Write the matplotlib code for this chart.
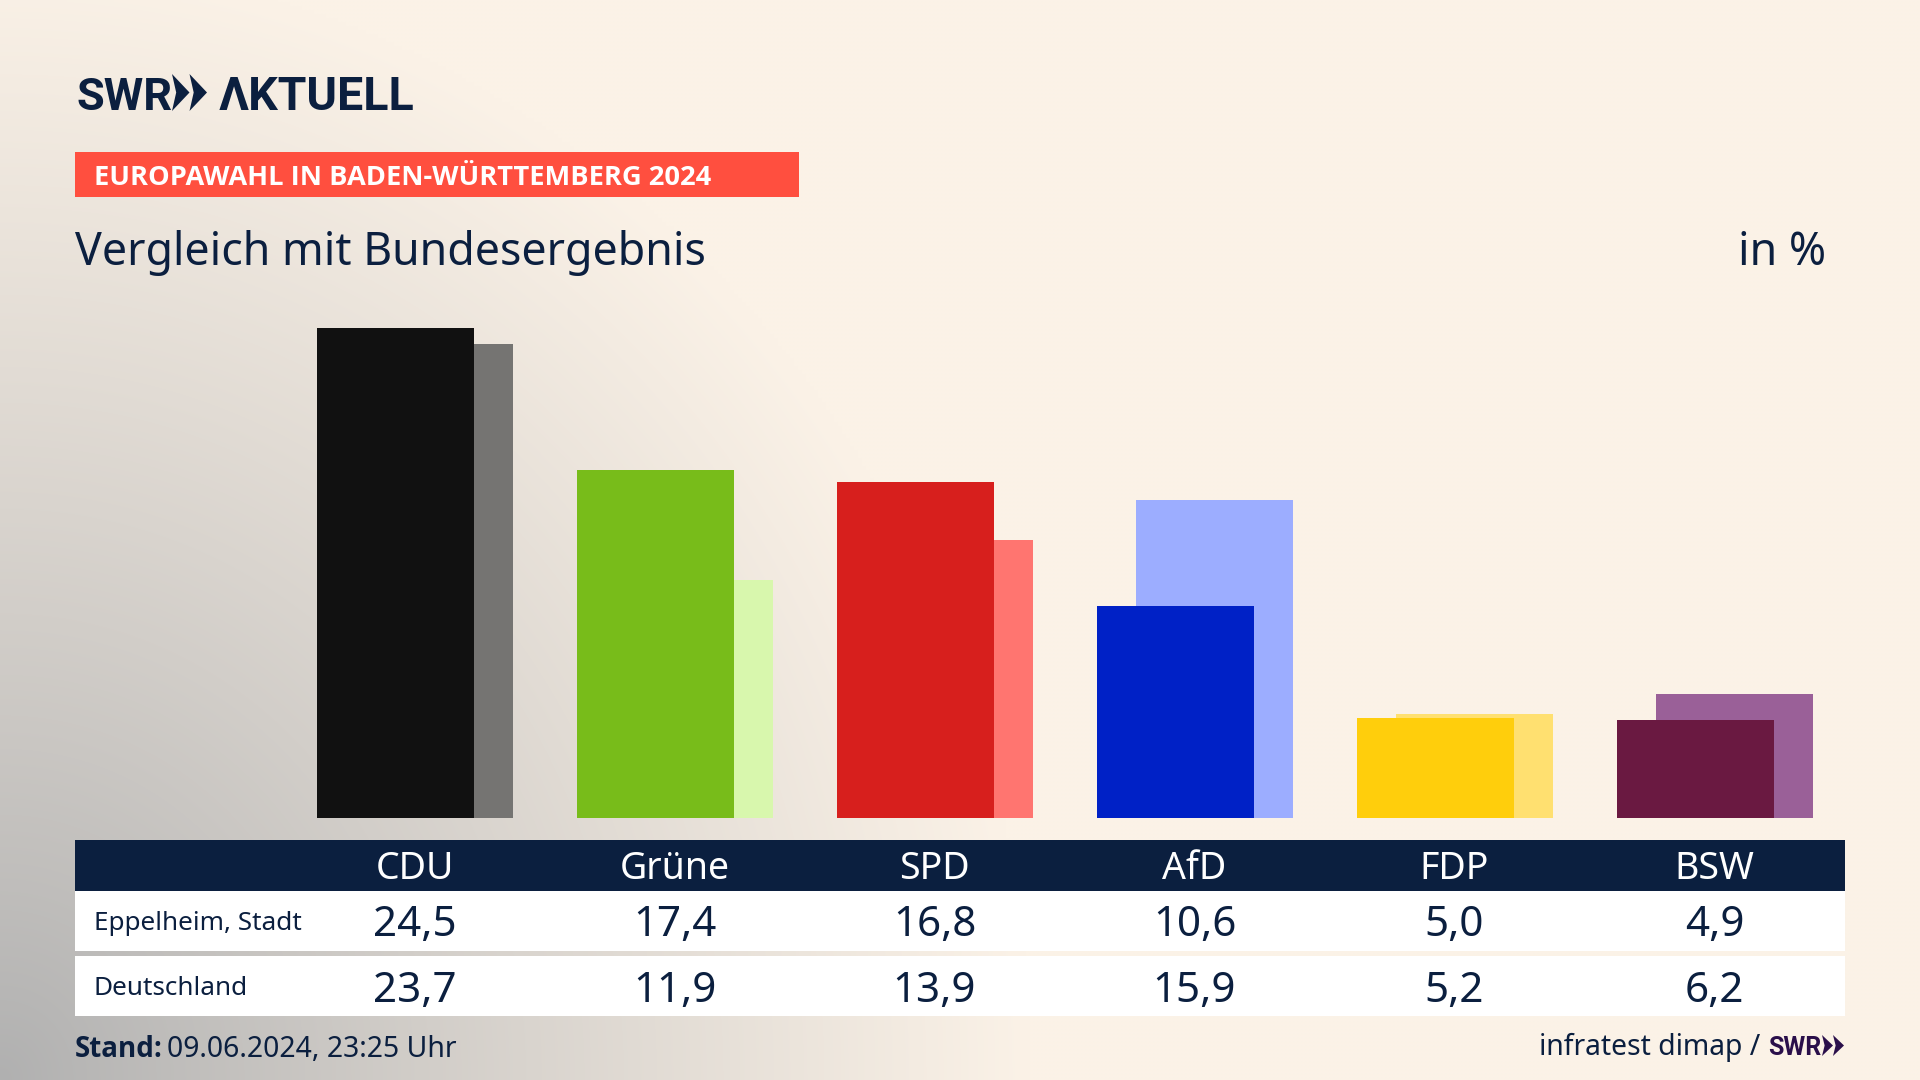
import matplotlib.pyplot as plt
from matplotlib.patches import Rectangle, Polygon
import numpy as np

# Daten
parties = ['CDU', 'Grüne', 'SPD', 'AfD', 'FDP', 'BSW']
eppelheim = [24.5, 17.4, 16.8, 10.6, 5.0, 4.9]
deutschland = [23.7, 11.9, 13.9, 15.9, 5.2, 6.2]
colors_front = ['#111111', '#78bc1a', '#d71f1d', '#0021c6', '#ffce0c', '#6a1941']
colors_back = ['#757472', '#d8f7ad', '#ff7570', '#9cadff', '#ffe070', '#9a6098']

NAVY = '#0b1f3f'
PURPLE = '#2a0f4a'
FONT = 'Noto Sans'
BOLD = 'Open Sans'
LOGO = 'Roboto'
W, H = 1920, 1080

plt.rcParams['font.family'] = [FONT, 'DejaVu Sans']

fig = plt.figure(figsize=(19.2, 10.8), dpi=100)

# Hintergrund und Texte in Pixelkoordinaten
bg = fig.add_axes([0, 0, 1, 1], zorder=0)
bg.set_xlim(0, W)
bg.set_ylim(H, 0)
bg.axis('off')

xx, yy = np.meshgrid(np.linspace(0, W, 480), np.linspace(0, H, 270))
t = np.clip(np.sqrt((xx / 1030) ** 2 + ((H - yy) / 1120) ** 2), 0, 1) ** 0.9
base = np.array([251, 242, 231]) / 255
dark = np.array([176, 176, 176]) / 255
grad = dark + (base - dark) * t[..., None]
bg.imshow(grad, extent=[0, W, H, 0], aspect='auto', interpolation='bilinear')


def chevrons(x, y, w, h, color):
    # die zwei Pfeile aus dem SWR-Logo
    for dx in (0, w * 0.5):
        pts = [(x + dx, y), (x + dx + w * 0.5, y + h / 2), (x + dx, y + h),
               (x + dx + w * 0.12, y + h / 2)]
        bg.add_patch(Polygon(pts, closed=True, color=color, lw=0))


# Logo
bg.text(76, 110, 'SWR', color=NAVY, fontsize=32.5, family=[LOGO, 'DejaVu Sans'],
        fontweight='bold', va='baseline')
chevrons(172, 74, 35, 37, NAVY)
bg.text(219, 110, 'ΛKTUELL', color=NAVY, fontsize=33.5, family=[LOGO, 'DejaVu Sans'],
        fontweight='bold', va='baseline')

# Kopfzeile
bg.add_patch(Rectangle((75, 152), 724, 45, color='#ff4f3f', lw=0))
bg.text(94, 185, 'EUROPAWAHL IN BADEN-WÜRTTEMBERG 2024', color='white', fontsize=19.65,
        family=[BOLD, 'DejaVu Sans'], fontweight='bold', va='baseline')
bg.text(75, 265, 'Vergleich mit Bundesergebnis', color=NAVY, fontsize=32.2, va='baseline')
bg.text(1826, 265, 'in %', color=NAVY, fontsize=32.2, va='baseline', ha='right')

# Balken
ax = fig.add_axes([284.5 / W, (H - 817.5) / H, 1560 / W, 500 / H], zorder=1)
ax.patch.set_alpha(0)
x = np.arange(len(parties))
bar_w = 157 / 260
off = 19.5 / 260
ax.bar(x + off, deutschland, bar_w, color=colors_back, lw=0)
ax.bar(x - off, eppelheim, bar_w, color=colors_front, lw=0)
ax.set_xlim(-0.5, 5.5)
ax.set_ylim(0, 25)
ax.axis('off')

# Tabelle
bg.add_patch(Rectangle((75, 840), 1770, 51, color=NAVY, lw=0))
bg.add_patch(Rectangle((75, 891), 1770, 60, color='white', lw=0))
bg.add_patch(Rectangle((75, 956), 1770, 60, color='white', lw=0))
bg.text(94, 930, 'Eppelheim, Stadt', color=NAVY, fontsize=18.8, va='baseline')
bg.text(94, 995, 'Deutschland', color=NAVY, fontsize=18.8, va='baseline')

for i, party in enumerate(parties):
    cx = 414.5 + 260 * i
    bg.text(cx, 879, party, color='white', fontsize=27, ha='center', va='baseline')
    bg.text(cx, 936, f'{eppelheim[i]:.1f}'.replace('.', ','), color=NAVY, fontsize=30.3,
            ha='center', va='baseline')
    bg.text(cx, 1002, f'{deutschland[i]:.1f}'.replace('.', ','), color=NAVY, fontsize=30.3,
            ha='center', va='baseline')

# Fusszeile
bg.text(75, 1057, 'Stand:', color=NAVY, fontsize=20, family=[BOLD, 'DejaVu Sans'],
        fontweight='bold', va='baseline')
bg.text(167, 1057, '09.06.2024, 23:25 Uhr', color=NAVY, fontsize=20.4, va='baseline')
bg.text(1760, 1055, 'infratest dimap /', color=NAVY, fontsize=20.4, ha='right', va='baseline')
bg.text(1768, 1055, 'SWR', color=PURPLE, fontsize=18, family=[LOGO, 'DejaVu Sans'],
        fontweight='bold', va='baseline')
chevrons(1822, 1035, 22, 21, PURPLE)

fig.savefig('out.png', dpi=100)
